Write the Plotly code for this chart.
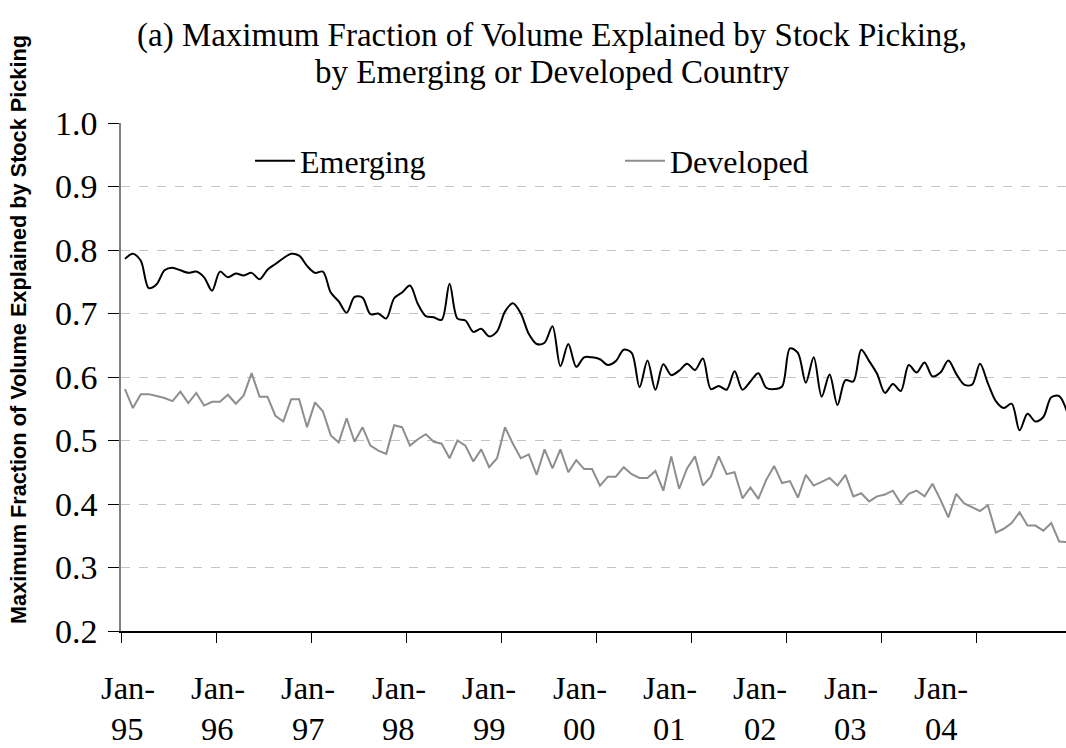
import plotly.graph_objects as go

# ---------------- data (monthly, Jan-1995 .. Dec-2004) ----------------
months = list(range(120))

emerging = [
    0.786, 0.794, 0.783, 0.740, 0.746, 0.768, 0.772, 0.768, 0.764, 0.766, 0.757, 0.736,
    0.766, 0.757, 0.763, 0.760, 0.764, 0.754, 0.769, 0.778, 0.787, 0.794, 0.791, 0.775,
    0.764, 0.766, 0.733, 0.719, 0.701, 0.726, 0.725, 0.699, 0.700, 0.692, 0.724, 0.733,
    0.744, 0.715, 0.696, 0.694, 0.690, 0.747, 0.692, 0.689, 0.671, 0.676, 0.664, 0.672,
    0.703, 0.716, 0.700, 0.668, 0.652, 0.654, 0.680, 0.617, 0.652, 0.616, 0.631, 0.631,
    0.628, 0.619, 0.625, 0.643, 0.638, 0.584, 0.626, 0.580, 0.620, 0.603, 0.610, 0.621,
    0.611, 0.629, 0.581, 0.586, 0.580, 0.609, 0.580, 0.593, 0.606, 0.583, 0.581, 0.585,
    0.645, 0.638, 0.591, 0.631, 0.569, 0.604, 0.556, 0.595, 0.593, 0.643, 0.625, 0.605,
    0.575, 0.589, 0.578, 0.619, 0.607, 0.623, 0.601, 0.607, 0.626, 0.605, 0.588, 0.588,
    0.621, 0.590, 0.562, 0.551, 0.558, 0.516, 0.542, 0.530, 0.537, 0.568, 0.570, 0.545,
]

developed = [
    0.581, 0.551, 0.573, 0.573, 0.570, 0.567, 0.562, 0.577, 0.559, 0.575, 0.555, 0.561,
    0.561, 0.572, 0.558, 0.571, 0.606, 0.569, 0.569, 0.539, 0.530, 0.565, 0.565, 0.521,
    0.560, 0.546, 0.508, 0.497, 0.535, 0.498, 0.521, 0.492, 0.484, 0.479, 0.524, 0.521,
    0.492, 0.502, 0.510, 0.498, 0.495, 0.472, 0.500, 0.492, 0.467, 0.486, 0.458, 0.472,
    0.521, 0.495, 0.472, 0.478, 0.446, 0.486, 0.456, 0.486, 0.450, 0.469, 0.455, 0.455,
    0.429, 0.443, 0.443, 0.458, 0.447, 0.441, 0.441, 0.452, 0.421, 0.475, 0.424, 0.456,
    0.475, 0.429, 0.443, 0.475, 0.447, 0.450, 0.409, 0.426, 0.408, 0.438, 0.460, 0.433,
    0.436, 0.410, 0.446, 0.429, 0.435, 0.441, 0.429, 0.446, 0.412, 0.417, 0.404, 0.412,
    0.415, 0.421, 0.401, 0.416, 0.421, 0.412, 0.432, 0.407, 0.379, 0.416, 0.401, 0.395,
    0.389, 0.398, 0.355, 0.361, 0.370, 0.387, 0.366, 0.366, 0.358, 0.370, 0.341, 0.340,
]

year_labels = ["95", "96", "97", "98", "99", "00", "01", "02", "03", "04"]
y_ticks = [0.2, 0.3, 0.4, 0.5, 0.6, 0.7, 0.8, 0.9, 1.0]

title_lines = [
    "(a) Maximum Fraction of Volume Explained by Stock Picking,",
    "by Emerging or Developed Country",
]
y_title = "Maximum Fraction of Volume Explained by Stock Picking"

# ---------------- layout constants ----------------
W, H = 1066, 748
ML, MR, MT, MB = 121, 0, 123, 117
PW = W - ML - MR
PH = H - MT - MB
PX_PER_MONTH = 7.917
SERIF = "Liberation Serif, Times New Roman, serif"
SANS = "Liberation Sans, Arial, sans-serif"


def px_x(p):
    return (p - ML) / PW


def px_y(p):
    return (H - MB - p) / PH


fig = go.Figure()
fig.add_trace(go.Scatter(
    x=months, y=emerging, mode="lines", name="Emerging",
    line=dict(color="#000000", width=2, shape="spline", smoothing=0.9),
))
fig.add_trace(go.Scatter(
    x=months, y=developed, mode="lines", name="Developed",
    line=dict(color="#8e8e8e", width=2),
))

x_lo = -0.5
x_hi = x_lo + PW / PX_PER_MONTH

fig.update_xaxes(
    range=[x_lo, x_hi],
    tickvals=[x_lo + 12 * k for k in range(len(year_labels))],
    ticktext=["" for _ in year_labels],
    ticks="outside", ticklen=10, tickcolor="#000000", tickwidth=1,
    showline=True, linecolor="#000000", linewidth=1.5,
    showgrid=False, zeroline=False,
)
fig.update_yaxes(
    range=[0.2, 1.0],
    tickvals=y_ticks, tickformat=".1f",
    ticks="outside", ticklen=11, tickcolor="#000000", tickwidth=1,
    ticklabelstandoff=4,
    tickfont=dict(family=SERIF, size=34, color="#000000"),
    showline=True, linecolor="#808080", linewidth=1.5,
    showgrid=True, gridcolor="#c4c4c4", griddash="dash", gridwidth=1,
    zeroline=False,
)

annotations = []
# two-line category labels (Jan- / yy)
label_first_px = 127.5
label_step_px = 90.4
for k, yy in enumerate(year_labels):
    xp = px_x(label_first_px + label_step_px * k)
    annotations.append(dict(
        x=xp, xref="paper", y=px_y(688), yref="paper",
        text="Jan-", showarrow=False, xanchor="center", yanchor="middle",
        font=dict(family=SERIF, size=32.5, color="#000000"),
    ))
    annotations.append(dict(
        x=xp, xref="paper", y=px_y(729), yref="paper",
        text=yy, showarrow=False, xanchor="center", yanchor="middle",
        font=dict(family=SERIF, size=32.5, color="#000000"),
    ))

# chart title (two lines)
for line, cy in zip(title_lines, [35, 72]):
    annotations.append(dict(
        x=px_x(552), xref="paper", y=px_y(cy), yref="paper",
        text=line, showarrow=False, xanchor="center", yanchor="middle",
        font=dict(family=SERIF, size=33, color="#000000"),
    ))

# y axis title
annotations.append(dict(
    x=px_x(18), xref="paper", y=px_y(330), yref="paper",
    text="<b>" + y_title + "</b>",
    textangle=-90, showarrow=False, xanchor="center", yanchor="middle",
    font=dict(family=SANS, size=21.7, color="#000000"),
))

fig.update_layout(
    width=W, height=H, autosize=False,
    margin=dict(l=ML, r=MR, t=MT, b=MB, pad=0),
    paper_bgcolor="#ffffff", plot_bgcolor="#ffffff",
    legend=dict(
        orientation="h", x=px_x(250), xanchor="left",
        y=px_y(161), yanchor="middle",
        font=dict(family=SERIF, size=32, color="#000000"),
        bgcolor="rgba(0,0,0,0)", borderwidth=0,
        entrywidth=315, entrywidthmode="pixels", itemwidth=40,
    ),
    annotations=annotations,
    showlegend=True,
)

fig.write_html(
    "out.html",
    config={"displayModeBar": False},
    post_script="document.body.style.margin='0';document.body.style.overflow='hidden';",
)
